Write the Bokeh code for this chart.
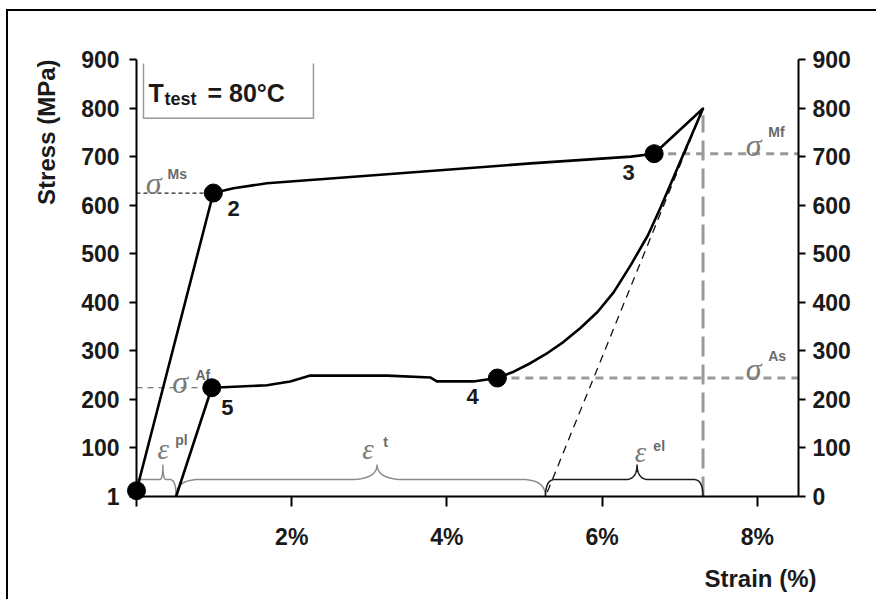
import numpy as np
from bokeh.plotting import figure
from bokeh.models import Range1d, LinearAxis, FixedTicker, Label, Title
from bokeh.embed import file_html
from bokeh.resources import INLINE

# ---------------- data ----------------
strain_load = [0.0, 0.99, 1.25, 1.68, 2.50, 5.08, 6.37, 6.67, 7.30]
stress_load = [12, 625, 635, 645, 655, 686, 700, 706, 799]

strain_unload = [7.30, 6.75, 6.59, 6.37, 6.15, 5.94, 5.72, 5.50, 5.30, 5.08, 4.86, 4.65]
stress_unload = [799, 594, 538, 477, 421, 380, 347, 318, 296, 275, 257, 244]

strain_plateau = [4.65, 4.34, 3.87, 3.79, 3.23, 2.24, 1.98, 1.68, 0.97]
stress_plateau = [244, 237, 237, 245, 249, 249, 237, 229, 224]

strain_final = [0.97, 0.51]
stress_final = [224, 0]

point_labels = ["1", "2", "3", "4", "5"]
point_strain = [0.0, 0.99, 6.67, 4.65, 0.97]
point_stress = [12, 625, 706, 244, 224]

peak_strain, peak_stress = 7.30, 799
residual_strain = 5.27      # end of elastic unloading line
plastic_strain = 0.51       # permanent strain
sigma_Ms, sigma_Mf, sigma_As, sigma_Af = 625, 706, 244, 224

x_ticks = [0, 2, 4, 6, 8]
x_tick_labels = {0: "", 2: "2%", 4: "4%", 6: "6%", 8: "8%"}
y_ticks_left = [0, 100, 200, 300, 400, 500, 600, 700, 800, 900]
y_left_labels = {0: "1"}          # point "1" sits where the 0 label would be
y_ticks_right = [0, 100, 200, 300, 400, 500, 600, 700, 800, 900]

# ---------------- figure ----------------
FONT = "Liberation Sans"
W, H = 870, 590
p = figure(width=W, height=H, output_backend="svg", toolbar_location=None,
           x_range=Range1d(0, 8.53), y_range=Range1d(0, 900),
           min_border_left=128, min_border_right=80, min_border_top=48,
           min_border_bottom=104, background_fill_color="white",
           border_fill_color="white", outline_line_color=None)
p.styles = {"border-left": "2px solid black", "border-top": "2px solid black",
            "margin-left": "6px", "margin-top": "9px"}
p.xgrid.visible = False
p.ygrid.visible = False

raxis = LinearAxis()
p.add_layout(raxis, "right")

for ax in [p.xaxis[0], p.yaxis[0], raxis]:
    ax.axis_line_width = 2
    ax.axis_line_color = "black"
    ax.major_tick_line_width = 2
    ax.major_tick_line_color = "black"
    ax.major_tick_in = 0
    ax.minor_tick_line_color = None
    ax.major_label_text_font = FONT
    ax.major_label_text_font_size = "23px"
    ax.major_label_text_font_style = "bold"
    ax.major_label_text_color = "#1a1a1a"

p.xaxis.ticker = FixedTicker(ticks=x_ticks)
p.xaxis.major_label_overrides = x_tick_labels
p.xaxis.major_tick_out = 10
p.xaxis.major_label_standoff = 17

p.yaxis[0].ticker = FixedTicker(ticks=y_ticks_left)
p.yaxis[0].major_label_overrides = y_left_labels
p.yaxis[0].major_tick_out = 7
p.yaxis[0].major_label_standoff = 10
raxis.ticker = FixedTicker(ticks=y_ticks_right)
raxis.major_tick_out = 7
raxis.major_label_standoff = 7

# axis titles as side-panel titles
t_y = Title(text="Stress (MPa)", align="right", text_font=FONT, text_font_size="24px",
            text_font_style="bold", text_color="#1a1a1a", standoff=37)
p.add_layout(t_y, "left")
t_x = Title(text="Strain (%)", align="right", offset=-18, text_font=FONT,
            text_font_size="24px", text_font_style="bold", text_color="#1a1a1a", standoff=20)
p.add_layout(t_x, "below")

# ---------------- reference lines ----------------
GRAY = "#9a9a9a"
p.line([0, point_strain[1]], [sigma_Ms, sigma_Ms], line_color="#222222", line_width=1.3, line_dash="4 3")
p.line([0, point_strain[4]], [sigma_Af, sigma_Af], line_color="#555555", line_width=1.2, line_dash="6 5")
p.line([point_strain[2], 8.53], [sigma_Mf, sigma_Mf], line_color=GRAY, line_width=3, line_dash="8 6")
p.line([point_strain[3], 8.53], [sigma_As, sigma_As], line_color=GRAY, line_width=3, line_dash="8 6")
p.line([peak_strain, peak_strain], [0, 785], line_color=GRAY, line_width=3, line_dash="20 8")
p.line([peak_strain, residual_strain], [peak_stress, 0], line_color="#111111", line_width=1.3, line_dash="8 6")

# ---------------- braces ----------------
def qbez(p0, p1, p2, n=14):
    t = np.linspace(0, 1, n)[:, None]
    return (1 - t) ** 2 * np.array(p0) + 2 * (1 - t) * t * np.array(p1) + t ** 2 * np.array(p2)

def brace(x0, x1, xt, r0, r1, rt, yb=35, ytip=66):
    parts = []
    if r0 > 0:
        parts.append(qbez((x0, 0), (x0, yb), (x0 + r0, yb)))
    else:
        parts.append(np.array([[x0, yb]]))
    parts.append(qbez((xt - rt, yb), (xt, yb), (xt, ytip)))
    parts.append(qbez((xt, ytip), (xt, yb), (xt + rt, yb)))
    parts.append(qbez((x1 - r1, yb), (x1, yb), (x1, 0)))
    pts = np.vstack(parts)
    return list(pts[:, 0]), list(pts[:, 1])

bx, by = brace(0.0, plastic_strain, 0.34, 0, 0.08, 0.04)
p.line(bx, by, line_color="#8c8c8c", line_width=1.5)
bx, by = brace(plastic_strain, residual_strain, 3.10, 0.30, 0.30, 0.35)
p.line(bx, by, line_color="#8c8c8c", line_width=1.5)
bx, by = brace(residual_strain, peak_strain, 6.45, 0.12, 0.12, 0.15)
p.line(bx, by, line_color="#1a1a1a", line_width=1.5)

# ---------------- title box ----------------
p.multi_line([[0.09, 0.09, 2.28, 2.28]], [[892, 779, 779, 892]], line_color="#999999", line_width=1.5)

# ---------------- main curve ----------------
path_x = strain_load + strain_unload[1:] + strain_plateau[1:] + strain_final[1:]
path_y = stress_load + stress_unload[1:] + stress_plateau[1:] + stress_final[1:]
p.line(path_x, path_y, line_color="black", line_width=2.6, line_join="round")
p.scatter(point_strain, point_stress, size=18, color="black", level="overlay")

# ---------------- texts ----------------
def lab(x, y, text, size, color="#1a1a1a", style="bold", font=FONT,
        align="left", baseline="alphabetic"):
    p.add_layout(Label(x=x, y=y, text=text, text_font=font, text_font_size=size,
                       text_font_style=style, text_color=color, text_align=align,
                       text_baseline=baseline))

# point numbers (point "1" is shown as the left axis' 0 label)
offs = [(1.25, 594), (6.34, 668), (4.33, 205), (1.17, 183)]
for t, (lx, ly) in zip(point_labels[1:], offs):
    lab(lx, ly, t, "22px", align="center", baseline="middle")

# title
lab(0.155, 830, "T", "25px")
lab(0.36, 818, "test", "18px")
lab(0.915, 830, "= 80°C", "25px")

# greek annotations
SER = "Liberation Serif"
GC = "#7a7a7a"
SC = "#6a6a6a"
lab(0.12, 645, "σ", "32px", color=GC, style="italic", font=SER)
lab(0.40, 665, "Ms", "14px", color=SC)
lab(0.46, 236, "σ", "32px", color=GC, style="italic", font=SER)
lab(0.76, 251, "Af", "14px", color=SC)
lab(7.85, 723, "σ", "32px", color=GC, style="italic", font=SER)
lab(8.14, 750, "Mf", "14px", color=SC)
lab(7.85, 263, "σ", "32px", color=GC, style="italic", font=SER)
lab(8.14, 290, "As", "14px", color=SC)
lab(0.27, 97, "ε", "29px", color=GC, style="italic", font=SER)
lab(0.50, 117, "pl", "14px", color=SC)
lab(2.91, 97, "ε", "29px", color=GC, style="italic", font=SER)
lab(3.18, 113, "t", "14px", color=SC)
lab(6.42, 92, "ε", "29px", color=GC, style="italic", font=SER)
lab(6.66, 105, "el", "14px", color=SC)

open("out.html", "w").write(file_html(p, INLINE))
